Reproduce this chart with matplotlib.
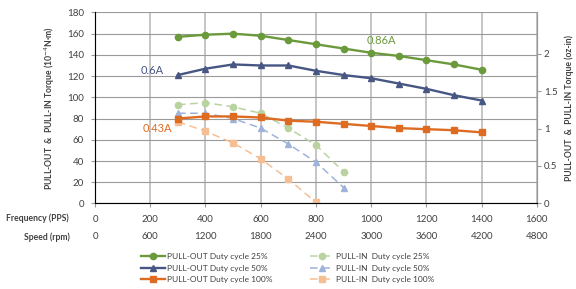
import matplotlib
matplotlib.use('Agg')
import matplotlib.pyplot as plt

plt.rcParams['font.family'] = ['Lato', 'DejaVu Sans']

freq = [300, 400, 500, 600, 700, 800, 900, 1000, 1100, 1200, 1300, 1400]
pullout_25 = [157, 159, 160, 158, 154, 150, 146, 142, 139, 135, 131, 126]
pullout_50 = [121, 127, 131, 130, 130, 125, 121, 118, 113, 108, 102, 97]
pullout_100 = [80, 82, 82, 81, 78, 77, 75, 73, 71, 70, 69, 67]

freq_in = [300, 400, 500, 600, 700, 800, 900]
pullin_25 = [93, 95, 91, 85, 71, 55, 30]
pullin_50 = [85, 85, 80, 71, 56, 39, 15]
freq_in_100 = [300, 400, 500, 600, 700, 800]
pullin_100 = [77, 68, 57, 42, 23, 1]

freq_ticks = list(range(0, 1601, 200))
speed_ticks = list(range(0, 4801, 600))
oz_ticks = [0, 0.5, 1, 1.5, 2]
oz_labels = ['0', '0.5', '1', '1.5', '2']

green = '#6b9a3c'
navy = '#475683'
orange = '#dd6c22'
lgreen = '#b9d3a0'
lblue = '#9fb2da'
lorange = '#f6bf93'
txt = '#404040'

fig = plt.figure(figsize=(5.76, 2.89), dpi=100)
ax = fig.add_axes([0.165, 0.296, 0.767, 0.661])

l1, = ax.plot(freq, pullout_25, color=green, lw=1.7, marker='o', ms=4.5,
              label='PULL-OUT Duty cycle 25%', zorder=5)
l2, = ax.plot(freq, pullout_50, color=navy, lw=1.7, marker='^', ms=4.5,
              label='PULL-OUT Duty cycle 50%', zorder=5)
l3, = ax.plot(freq, pullout_100, color=orange, lw=1.7, marker='s', ms=4.5,
              label='PULL-OUT Duty cycle 100%', zorder=5)
l4, = ax.plot(freq_in, pullin_25, color=lgreen, lw=1.1, ls=(0, (5, 3)), marker='o', ms=4.5,
              label='PULL-IN  Duty cycle 25%', zorder=4)
l5, = ax.plot(freq_in, pullin_50, color=lblue, lw=1.1, ls=(0, (5, 3)), marker='^', ms=4.5,
              label='PULL-IN  Duty cycle 50%', zorder=4)
l6, = ax.plot(freq_in_100, pullin_100, color=lorange, lw=1.1, ls=(0, (5, 3)), marker='s', ms=4.5,
              label='PULL-IN  Duty cycle 100%', zorder=4)

ax.set_xlim(0, 1600)
ax.set_ylim(0, 180)
ax.set_yticks(range(0, 181, 20))
ax.set_xticks(freq_ticks)
ax.yaxis.grid(True, color='#9a9a9a', lw=0.8)
ax.xaxis.grid(True, color='#c0c0c0', lw=1.3)
ax.set_axisbelow(True)
ax.spines['top'].set_visible(False)
for s in ['left', 'right', 'bottom']:
    ax.spines[s].set_color('#9a9a9a')
    ax.spines[s].set_linewidth(0.8)
ax.tick_params(axis='y', labelsize=7, colors='#9a9a9a', labelcolor=txt, length=3, pad=5)
ax.tick_params(axis='x', labelsize=7, colors='#9a9a9a', labelcolor=txt, length=3, pad=5)
ax.set_ylabel('PULL-OUT  &  PULL-IN Torque (10$^{-4}$N·m)', fontsize=6.2, fontweight='bold',
              color=txt, labelpad=7)

sec = ax.secondary_xaxis(-0.1, functions=(lambda f: f * 3, lambda s: s / 3))
sec.set_xticks(speed_ticks)
sec.spines['bottom'].set_visible(False)
sec.tick_params(length=0, labelsize=7, labelcolor=txt, pad=7)

ax2 = ax.twinx()
ax2.set_ylim(0, 180 / 70.6)
ax2.set_yticks(oz_ticks)
ax2.set_yticklabels(oz_labels)
ax2.spines['top'].set_visible(False)
ax2.spines['right'].set_color('#9a9a9a')
ax2.spines['right'].set_linewidth(0.8)
ax2.tick_params(axis='y', labelsize=7, colors='#9a9a9a', labelcolor=txt, length=3, pad=2)
ax2.set_ylabel('PULL-OUT  &  PULL-IN Torque (oz-in)', fontsize=6.2, fontweight='bold',
               color=txt, labelpad=5)

ax.text(206, 125.5, '0.6A', color=navy, fontsize=8, ha='center', va='center')
ax.text(1036, 153.7, '0.86A', color=green, fontsize=8, ha='center', va='center')
ax.text(225, 70.9, '0.43A', color=orange, fontsize=8, ha='center', va='center')

fig.text(69 / 576, 1 - 218 / 289, 'Frequency (PPS)', fontsize=6.2, fontweight='bold',
         color=txt, ha='right', va='center')
fig.text(70 / 576, 1 - 237 / 289, 'Speed (rpm)', fontsize=6.2, fontweight='bold',
         color=txt, ha='right', va='center')

fig.legend(handles=[l1, l2, l3, l4, l5, l6], ncol=2, loc='center',
           bbox_to_anchor=(0.5, 1 - 268 / 289), frameon=False, fontsize=6.0,
           handlelength=2.8, handletextpad=0.3, columnspacing=4.5, labelspacing=0.5,
           labelcolor=txt)

fig.savefig('out.png', dpi=100)
